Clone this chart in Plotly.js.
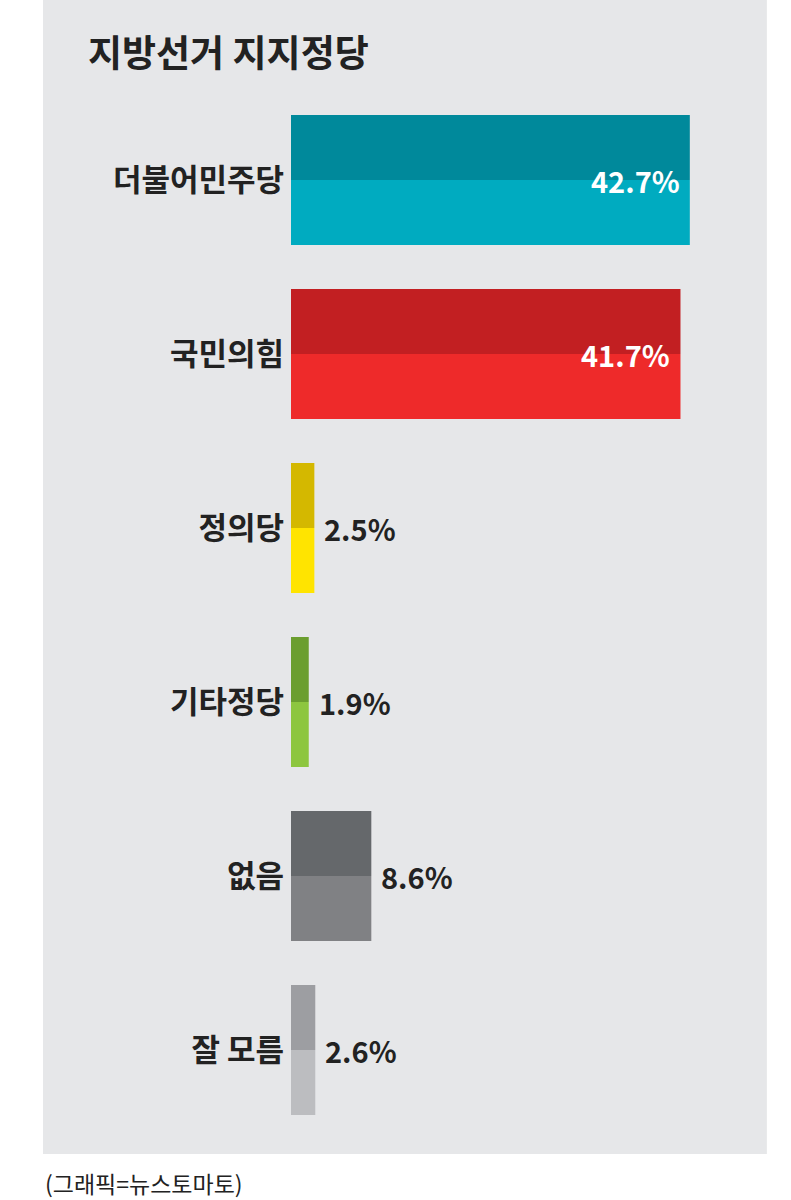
<!DOCTYPE html>
<html>
<head>
<meta charset="utf-8">
<script src="https://cdn.plot.ly/plotly-3.0.1.min.js"></script>
<style>
  html, body { margin: 0; padding: 0; background: #ffffff; }
  #chart { width: 791px; height: 1200px; }
</style>
</head>
<body>
<div id="chart"></div>
<script>
// 지방선거 지지정당 (뉴스토마토)
const parties = ['더불어민주당', '국민의힘', '정의당', '기타정당', '없음', '잘 모름'];
const shares = [42.7, 41.7, 2.5, 1.9, 8.6, 2.6];
const darkColors = ['#00899b', '#c21f22', '#d4b800', '#6b9e2f', '#65686b', '#9d9ea2'];
const lightColors = ['#00abc0', '#ee2a2a', '#ffe400', '#8dc63f', '#808184', '#bcbdc0'];
const labelInside = [true, true, false, false, false, false];

const FONT = '"Noto Sans CJK KR", "Noto Sans", sans-serif';
const HALF = 0.374;

// top half darker, bottom half lighter (y axis is reversed)
const traces = [
    {
        type: 'bar', orientation: 'h',
        x: shares, y: parties,
        width: HALF, offset: -HALF,
        marker: { color: darkColors, line: { width: 0 } },
        hoverinfo: 'skip'
    },
    {
        type: 'bar', orientation: 'h',
        x: shares, y: parties,
        width: HALF, offset: 0,
        marker: { color: lightColors, line: { width: 0 } },
        hoverinfo: 'skip'
    }
];

const annotations = shares.map((v, i) => ({
    x: v, y: parties[i], xref: 'x', yref: 'y',
    text: v.toFixed(1) + '%',
    showarrow: false,
    xanchor: labelInside[i] ? 'right' : 'left',
    xshift: labelInside[i] ? -8 : 8,
    font: { family: FONT, size: 29, weight: 700, color: labelInside[i] ? '#ffffff' : '#222222' }
}));

annotations.push({
    text: '지방선거 지지정당',
    xref: 'paper', yref: 'paper',
    x: -0.438, y: 1.04, xanchor: 'left', yanchor: 'middle',
    showarrow: false,
    font: { family: FONT, size: 37, weight: 700, color: '#222222' }
});
annotations.push({
    text: '(그래픽=뉴스토마토)',
    xref: 'paper', yref: 'paper',
    x: -0.532, y: -0.044, xanchor: 'left', yanchor: 'middle',
    showarrow: false,
    font: { family: FONT, size: 23, weight: 400, color: '#222222' }
});

const layout = {
    width: 791, height: 1200,
    margin: { l: 291, r: 33, t: 93, b: 63 },
    paper_bgcolor: '#ffffff',
    plot_bgcolor: 'rgba(0,0,0,0)',
    barmode: 'overlay',
    showlegend: false,
    xaxis: {
        range: [0, 50], visible: false, fixedrange: true
    },
    yaxis: {
        autorange: 'reversed',
        showgrid: false, zeroline: false, showline: false,
        ticks: '', ticklabelstandoff: 6,
        tickfont: { family: FONT, size: 31, weight: 700, color: '#222222' },
        fixedrange: true
    },
    shapes: [{
        type: 'rect', xref: 'paper', yref: 'paper', layer: 'below',
        x0: -0.531, x1: 1.019, y0: -0.0163, y1: 1.089,
        fillcolor: '#e6e7e9', line: { width: 0 }
    }],
    annotations: annotations
};

Plotly.newPlot('chart', traces, layout, { displayModeBar: false, staticPlot: true });
</script>
</body>
</html>
